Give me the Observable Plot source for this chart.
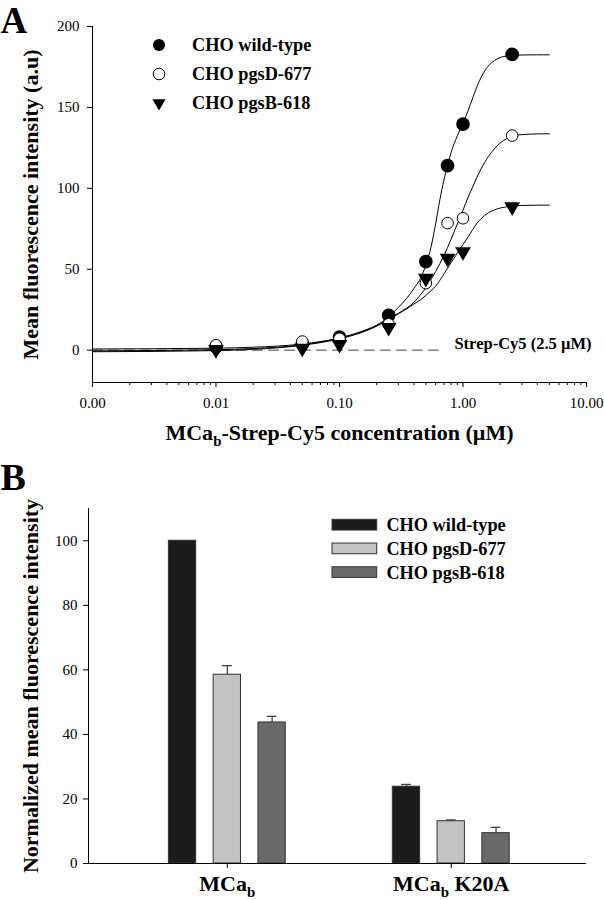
<!DOCTYPE html>
<html><head><meta charset="utf-8">
<script src="https://cdn.jsdelivr.net/npm/d3@7"></script>
<script src="https://cdn.jsdelivr.net/npm/@observablehq/plot@0.6"></script>
<style>
body{margin:0;background:#fff;}
#chart{width:604px;}
#chart svg{display:block;}
</style></head><body><div id="chart"></div>
<script>
const FONT = '"Liberation Serif", "Times New Roman", Times, serif';

// ---------- Panel A data ----------
const seriesNames = ["CHO wild-type", "CHO pgsD-677", "CHO pgsB-618"];
const conc = [0.01, 0.05, 0.1, 0.25, 0.5, 0.75, 1.0, 2.5];
const wtPoints = [2, 4, 8, 21.5, 54.7, 114, 139.7, 182.8];
const pgsDPoints = [3, 5.3, 7, 16, 41.4, 78.5, 81.5, 132.6];
const pgsBPoints = [0.3, 1.2, 3.5, 14, 44.4, 56.8, 60.8, 88.6];

const curveX = [0.001, 0.01, 0.02, 0.05, 0.1, 0.15, 0.2, 0.25, 0.3, 0.35, 0.4, 0.45, 0.5, 0.55, 0.6, 0.65, 0.7, 0.75, 0.8, 0.9, 1.0, 1.1, 1.2, 1.3, 1.4, 1.6, 1.8, 2.0, 2.5, 3, 4, 5];
const wtCurve = [-0.5, 0.3, 1.0, 3.3, 7.5, 11.5, 15.5, 20.5, 26.5, 32, 38, 44, 52.5, 63.5, 78, 93, 105, 114, 122, 132.5, 140.5, 148, 156, 163, 168.5, 175.5, 179, 180.8, 182.2, 182.4, 182.5, 182.5];
const pgsDCurve = [0.7, 1.2, 1.8, 3.8, 7.5, 11.2, 15, 19.2, 22.8, 26, 29.5, 34, 38.5, 43.5, 48.5, 53.5, 58.5, 63.5, 68.5, 78, 86.5, 94.5, 101, 107, 112, 119.5, 124.5, 128, 132, 133.2, 133.6, 133.7];
const pgsBCurve = [-1, -0.3, 0.5, 3, 7, 10.8, 14.8, 19, 22.5, 25.5, 28.5, 31, 33.8, 36.7, 39.5, 43.2, 47, 50.6, 54, 60, 65.3, 70, 74.5, 78.5, 81.2, 84.8, 86.7, 87.8, 89, 89.4, 89.6, 89.6];

const controlLevel = 0;            // Strep-Cy5 (2.5 µM) alone
const controlRange = [0.001, 0.65];
const controlLabel = "Strep-Cy5 (2.5 µM)";

const xDomainA = [0.001, 10];
const yDomainA = [-20, 200];
const xTicksA = [0.001, 0.01, 0.1, 1, 10];
const xTickLabelsA = ["0.00", "0.01", "0.10", "1.00", "10.00"];
const yTicksA = [0, 50, 100, 150, 200];

// ---------- Panel B data ----------
const groups = ["MCa_b", "MCa_b K20A"];
const wtBars = [100, 23.8];
const pgsDBars = [58.5, 13.1];
const pgsBBars = [43.7, 9.4];
const wtErr = [0, 0.7];
const pgsDErr = [2.8, 0.4];
const pgsBErr = [1.9, 1.8];
const barColors = ["#1b1b1b", "#c3c3c3", "#6a6a6a"];
const yTicksB = [0, 20, 40, 60, 80, 100];
const yDomainB = [0, 110];

// ---------- build tables ----------
const pointsA = [];
[wtPoints, pgsDPoints, pgsBPoints].forEach((arr, s) => arr.forEach((v, i) => pointsA.push({x: conc[i], y: v, s})));
const curvesA = [];
[wtCurve, pgsDCurve, pgsBCurve].forEach((arr, s) => arr.forEach((v, i) => curvesA.push({x: curveX[i], y: v, s})));

const SLOT = 5; // bar slots per group
const barsB = [];
[[wtBars, wtErr], [pgsDBars, pgsDErr], [pgsBBars, pgsBErr]].forEach(([vals, errs], s) =>
  vals.forEach((v, g) => barsB.push({g, s, pos: g * SLOT + s, value: v, err: errs[g]})));
const xDomainB = [-2.1, 9.02];
const halfBar = 0.305, halfCap = 0.11;

const minorA = [];
for (const d of [0.001, 0.01, 0.1, 1]) for (let k = 2; k <= 9; k++) minorA.push(d * k);

const R_DOT = 6.1, R_TRI = 4.9;

// ---------- Panel A ----------
const plotA = Plot.plot({
  width: 604, height: 450,
  marginLeft: 92, marginRight: 18, marginTop: 26, marginBottom: 68,
  style: {fontFamily: FONT, fontSize: "15px", color: "#000", background: "#fff", overflow: "visible"},
  x: {type: "log", domain: xDomainA},
  y: {domain: yDomainA},
  marks: [
    Plot.ruleX([xDomainA[0]], {stroke: "#000"}),
    Plot.ruleY([yDomainA[0]], {stroke: "#000"}),
    Plot.axisY({ticks: yTicksA, tickSize: 5, tickPadding: 8, label: null}),
    Plot.axisX({ticks: xTicksA, tickFormat: d => xTickLabelsA[xTicksA.indexOf(d)], tickSize: 5, tickPadding: 10, label: null}),
    Plot.axisX({ticks: minorA, tickFormat: () => "", tickSize: 3, label: null}),
    Plot.line(controlRange.map(x => ({x, y: controlLevel})), {x: "x", y: "y", stroke: "#444", strokeDasharray: "10,6", strokeWidth: 1}),
    Plot.text([controlLabel], {frameAnchor: "bottom-right", textAnchor: "end", lineAnchor: "middle", dx: 5, dy: -39, fontSize: 16.5, fontWeight: "bold"}),
    Plot.line(curvesA, {x: "x", y: "y", z: "s", stroke: "#000", strokeWidth: 1, curve: "monotone-x"}),
    Plot.dot(pointsA.filter(d => d.s === 0), {x: "x", y: "y", r: R_DOT, fill: "#000", stroke: "#000"}),
    Plot.dot(pointsA.filter(d => d.s === 1), {x: "x", y: "y", r: R_DOT - 0.3, fill: "#fff", stroke: "#000", strokeWidth: 1}),
    Plot.dot(pointsA.filter(d => d.s === 2), {x: "x", y: "y", symbol: "triangle", rotate: 180, r: R_TRI, fill: "#000", stroke: "#000"}),
    Plot.text(["Mean fluorescence intensity (a.u)"], {frameAnchor: "left", textAnchor: "middle", lineAnchor: "middle", rotate: -90, dx: -62, fontSize: 22, fontWeight: "bold"}),
    Plot.text(["MCa_b-Strep-Cy5 concentration (µM)"], {frameAnchor: "bottom", lineAnchor: "middle", dy: 50, fontSize: 22, fontWeight: "bold"}),
    Plot.text(["A"], {frameAnchor: "top-left", textAnchor: "start", lineAnchor: "top", dx: -92, dy: -20, fontSize: 37, fontWeight: "bold"})
  ]
});

// ---------- Panel B ----------
const plotB = Plot.plot({
  width: 604, height: 450,
  marginLeft: 88, marginRight: 18, marginTop: 58, marginBottom: 37,
  style: {fontFamily: FONT, fontSize: "15px", color: "#000", background: "#fff", overflow: "visible"},
  x: {domain: xDomainB},
  y: {domain: yDomainB},
  marks: [
    Plot.rectY(barsB, {x1: d => d.pos - halfBar, x2: d => d.pos + halfBar, y1: 0, y2: "value", fill: d => barColors[d.s], stroke: "#333", strokeWidth: 1}),
    Plot.ruleX(barsB.filter(d => d.err > 0), {x: "pos", y1: "value", y2: d => d.value + d.err, stroke: "#444", strokeWidth: 1.3}),
    Plot.ruleY(barsB.filter(d => d.err > 0), {y: d => d.value + d.err, x1: d => d.pos - halfCap, x2: d => d.pos + halfCap, stroke: "#444", strokeWidth: 1.3}),
    Plot.ruleX([xDomainB[0]], {stroke: "#000"}),
    Plot.ruleY([yDomainB[0]], {stroke: "#000"}),
    Plot.axisY({ticks: yTicksB, tickSize: 5, tickPadding: 6, label: null}),
    Plot.axisX({ticks: groups.map((_, g) => g * SLOT + 1), tickFormat: d => groups[(d - 1) / SLOT], tickSize: 5, tickPadding: 7, fontSize: 22, fontWeight: "bold", label: null}),
    Plot.text(["Normalized mean fluorescence intensity"], {frameAnchor: "left", textAnchor: "middle", lineAnchor: "middle", rotate: -90, dx: -58, fontSize: 22, fontWeight: "bold"}),
    Plot.text(["B"], {frameAnchor: "top-left", textAnchor: "start", lineAnchor: "top", dx: -88, dy: -45, fontSize: 38, fontWeight: "bold"})
  ]
});

const chart = document.getElementById("chart");
chart.appendChild(plotA);
chart.appendChild(plotB);

// subscript "_b" -> b
function subscripts(svg) {
  d3.select(svg).selectAll("text").each(function() {
    if (this.querySelector("tspan")) {
      d3.select(this).selectAll("tspan").each(function() { fix(this); });
    } else fix(this);
  });
  function fix(el) {
    const t = el.textContent;
    if (!t.includes("_b")) return;
    const fs = parseFloat(getComputedStyle(el).fontSize) || 15;
    const shift = 0.28 * fs;
    const parts = t.split("_b");
    el.textContent = "";
    const sel = d3.select(el);
    parts.forEach((p, i) => {
      if (i > 0) sel.append("tspan").attr("dy", shift).attr("font-size", 0.68 * fs).text("b");
      if (p) sel.append("tspan").attr("dy", i > 0 ? -shift : null).text(p);
    });
  }
}
subscripts(plotA);
subscripts(plotB);

// legends
function legendA(svg) {
  const g = d3.select(svg).append("g").attr("font-family", FONT).attr("font-size", 18.3).attr("font-weight", "bold").attr("text-anchor", "start");
  const x0 = 159, y0 = 45, step = 29, tx = 192;
  seriesNames.forEach((name, i) => {
    const y = y0 + i * step;
    if (i === 0) g.append("circle").attr("cx", x0).attr("cy", y).attr("r", R_DOT).attr("fill", "#000");
    if (i === 1) g.append("circle").attr("cx", x0).attr("cy", y).attr("r", R_DOT - 0.3).attr("fill", "#fff").attr("stroke", "#000");
    if (i === 2) g.append("path").attr("d", d3.symbol(d3.symbolTriangle, Math.PI * R_TRI * R_TRI)()).attr("transform", `translate(${x0},${y}) rotate(180)`).attr("fill", "#000");
    g.append("text").attr("x", tx).attr("y", y).attr("dy", "0.35em").attr("fill", "#000").attr("text-anchor", "start").text(name);
  });
}
function legendB(svg) {
  const g = d3.select(svg).append("g").attr("font-family", FONT).attr("font-size", 18.3).attr("font-weight", "bold").attr("text-anchor", "start");
  const x0 = 332, w = 44.7, h = 10.7, y0 = 74.7, step = 23.7, tx = 386.4;
  seriesNames.forEach((name, i) => {
    const y = y0 + i * step;
    g.append("rect").attr("x", x0).attr("y", y - h / 2).attr("width", w).attr("height", h).attr("fill", barColors[i]).attr("stroke", "#333");
    g.append("text").attr("x", tx).attr("y", y).attr("dy", "0.35em").attr("fill", "#000").attr("text-anchor", "start").text(name);
  });
}
legendA(plotA);
legendB(plotB);
</script></body></html>
